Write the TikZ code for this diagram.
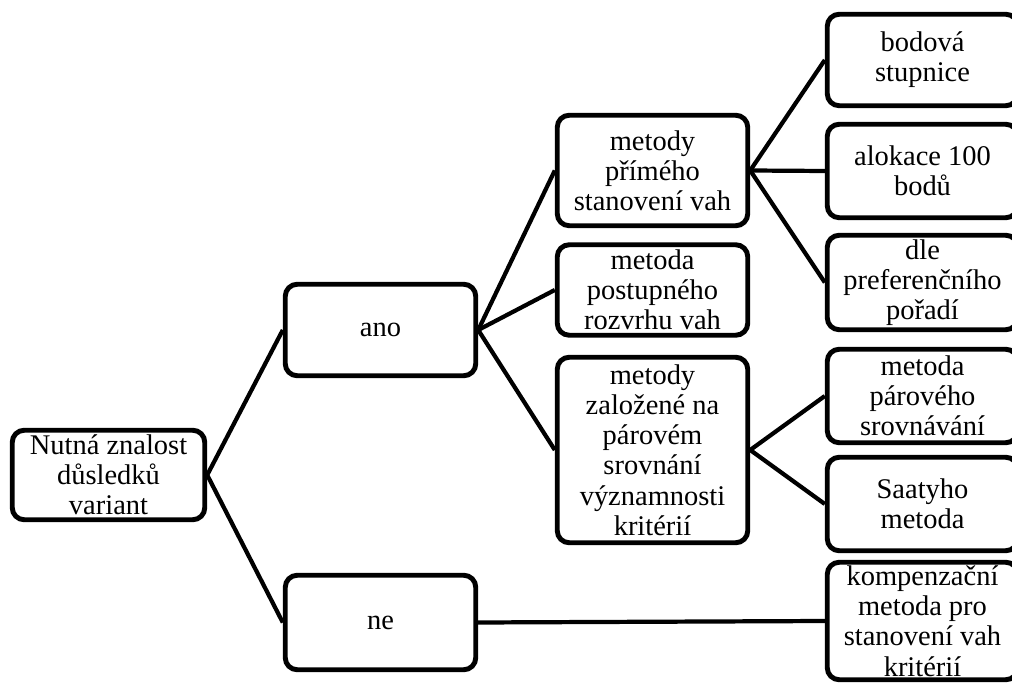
\documentclass[tikz,border=0pt]{standalone}
\usepackage{fontspec}
\newfontfamily\boxfont{Liberation Serif}
\usetikzlibrary{positioning}

\begin{document}
\begin{tikzpicture}[
  box/.style={draw,line width=2.8pt,rounded corners=0.24cm,align=center,inner sep=0pt,
    minimum width=3.81cm,font=\boxfont\fontsize{16.2}{17.2}\selectfont},
  link/.style={line width=2.4pt}
]
\useasboundingbox (0,0) rectangle (20.24,13.68);

% Root
\node[box,minimum width=3.85cm,minimum height=1.79cm] (root) at (2.17,4.18) {Nutná znalost\\důsledků\\variant};

% Answers
\node[box,minimum height=1.83cm] (ano) at (7.61,7.08) {ano};
\node[box,minimum height=1.89cm] (ne) at (7.61,1.23) {ne};

% Groups of methods
\node[box,minimum height=2.21cm] (prime) at (13.05,10.27) {metody\\přímého\\stanovení vah};
\node[box,minimum height=1.81cm] (postup) at (13.05,7.88) {metoda\\postupného\\rozvrhu vah};
\node[box,minimum height=3.71cm] (parove) at (13.05,4.68) {metody\\založené na\\párovém\\srovnání\\významnosti\\kritérií};

% Single methods
\node[box,minimum height=1.83cm] (bodova) at (18.45,12.48) {bodová\\stupnice};
\node[box,minimum height=1.87cm] (alokace) at (18.45,10.26) {alokace 100\\bodů};
\node[box,minimum height=1.89cm] (poradi) at (18.45,8.03) {dle\\preferenčního\\pořadí};
\node[box,minimum height=1.87cm] (srovnani) at (18.45,5.76) {metoda\\párového\\srovnávání};
\node[box,minimum height=1.87cm] (saaty) at (18.45,3.6) {Saatyho\\metoda};
\node[box,minimum height=2.35cm] (kompenz) at (18.45,1.26) {kompenzační\\metoda pro\\stanovení vah\\kritérií};

% Links
\draw[link] (root.east) -- (ano.west);
\draw[link] (root.east) -- (ne.west);
\draw[link] (ano.east) -- (prime.west);
\draw[link] (ano.east) -- (postup.west);
\draw[link] (ano.east) -- (parove.west);
\draw[link] (prime.east) -- (bodova.west);
\draw[link] (prime.east) -- (alokace.west);
\draw[link] (prime.east) -- (poradi.west);
\draw[link] (parove.east) -- (srovnani.west);
\draw[link] (parove.east) -- (saaty.west);
\draw[link] (ne.east) -- (kompenz.west);

\end{tikzpicture}
\end{document}
